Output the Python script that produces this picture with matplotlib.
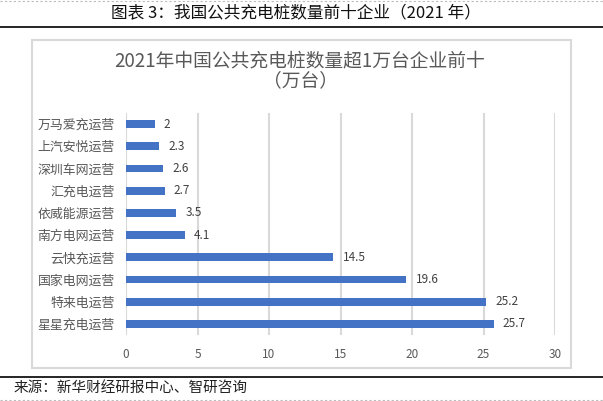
import matplotlib.pyplot as plt
from matplotlib.patches import Rectangle
from matplotlib.lines import Line2D

plt.rcParams['font.family'] = ['Noto Sans CJK SC', 'DejaVu Sans']

companies = ["万马爱充运营", "上汽安悦运营", "深圳车网运营", "汇充电运营", "依威能源运营",
             "南方电网运营", "云快充运营", "国家电网运营", "特来电运营", "星星充电运营"]
values = [2, 2.3, 2.6, 2.7, 3.5, 4.1, 14.5, 19.6, 25.2, 25.7]
value_labels = ["2", "2.3", "2.6", "2.7", "3.5", "4.1", "14.5", "19.6", "25.2", "25.7"]
xticks = [0, 5, 10, 15, 20, 25, 30]

W, H = 603, 401
fig = plt.figure(figsize=(W / 100, H / 100), dpi=100)

def fx(px):
    return px / W

def fy(py):
    return 1 - py / H

# header, footer and separator lines
fig.text(fx(296), fy(14), "图表 3：我国公共充电桩数量前十企业（2021 年）", ha="center", va="center",
         fontsize=12, color="#111111")
fig.add_artist(Line2D([0, 1], [fy(27), fy(27)], color="black", lw=1.2))
fig.add_artist(Line2D([0, 1], [fy(377), fy(377)], color="black", lw=1.2))
fig.add_artist(Line2D([0, 1], [fy(400), fy(400)], color="#bbbbbb", lw=0.8, ls=(0, (2, 2))))
fig.add_artist(Line2D([0, 1], [fy(0.5), fy(0.5)], color="#bbbbbb", lw=0.8, ls=(0, (2, 2))))
fig.text(fx(14), fy(388), "来源：新华财经研报中心、智研咨询", ha="left", va="center",
         fontsize=10.5, color="#222222")

# chart box
fig.add_artist(Rectangle((fx(32), fy(368)), fx(571) - fx(32), fy(40) - fy(368),
                         fill=False, edgecolor="#d9d9d9", lw=1.5))
fig.text(fx(300), fy(61), "2021年中国公共充电桩数量超1万台企业前十", ha="center", va="center",
         fontsize=13.5, color="#595959")
fig.text(fx(300), fy(81), "（万台）", ha="center", va="center", fontsize=13.5, color="#595959")

ax = fig.add_axes([fx(126), fy(335), fx(555) - fx(126), fy(113) - fy(335)])
ypos = list(range(len(companies)))
ax.barh(ypos, values, height=0.36, color="#4472c4", zorder=3)
for y, v, lab in zip(ypos, values, value_labels):
    ax.text(v + 0.65, y, lab, va="center", ha="left", fontsize=8.5, color="#404040")

ax.set_xlim(0, 30)
ax.set_ylim(-0.5, len(companies) - 0.5)
ax.invert_yaxis()
ax.set_xticks(xticks)
ax.set_xticklabels([str(t) for t in xticks], fontsize=8.5, color="#595959")
ax.set_yticks(ypos)
ax.set_yticklabels(companies, fontsize=9.3, color="#595959")
ax.tick_params(axis="both", length=0)
ax.tick_params(axis="x", pad=9)
ax.tick_params(axis="y", pad=8)
ax.grid(axis="x", color="#d9d9d9", lw=1.5, zorder=0)
for s in ax.spines.values():
    s.set_visible(False)

fig.savefig("out.png", dpi=100)
